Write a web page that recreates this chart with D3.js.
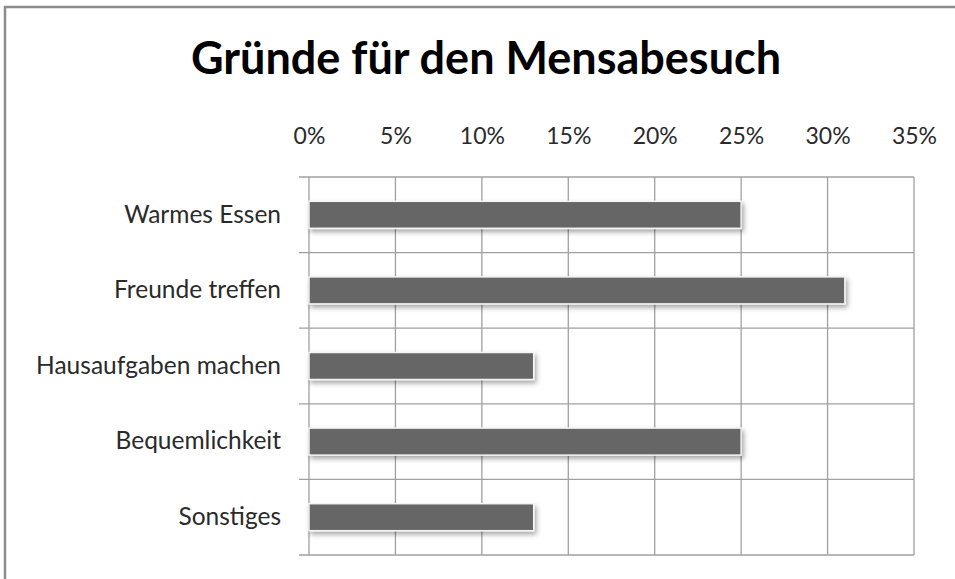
<!DOCTYPE html>
<html>
<head>
<meta charset="utf-8">
<script src="https://cdn.jsdelivr.net/npm/d3@7"></script>
<style>
  body { margin: 0; background: #fff; }
  svg { display: block; font-family: Lato, "Open Sans", sans-serif; }
</style>
</head>
<body>
<svg id="chart"></svg>
<script>
const width = 955;
const height = 579;

// Data
const categories = ["Warmes Essen", "Freunde treffen", "Hausaufgaben machen", "Bequemlichkeit", "Sonstiges"];
const values = [0.25, 0.31, 0.13, 0.25, 0.13];
const tickValues = [0, 0.05, 0.10, 0.15, 0.20, 0.25, 0.30, 0.35];
const title = "Gründe für den Mensabesuch";

const margin = { top: 177, right: 41, bottom: 24, left: 309 };

const svg = d3.select("#chart")
    .attr("width", width)
    .attr("height", height);

// Outer chart frame (only left and top edges are visible in the picture)
svg.append("rect")
    .attr("x", 5)
    .attr("y", 7)
    .attr("width", 1200)
    .attr("height", 1200)
    .attr("fill", "none")
    .attr("stroke", "#8c8c8c")
    .attr("stroke-width", 2.5);

// Shadow filter for the bars
const defs = svg.append("defs");
const filter = defs.append("filter")
    .attr("id", "shadow")
    .attr("x", "-10%").attr("y", "-30%")
    .attr("width", "130%").attr("height", "180%");
filter.append("feDropShadow")
    .attr("dx", 2).attr("dy", 3)
    .attr("stdDeviation", 2.5)
    .attr("flood-color", "#000")
    .attr("flood-opacity", 0.35);

const x = d3.scaleLinear()
    .domain([0, 0.35])
    .range([margin.left, width - margin.right]);

const y = d3.scaleBand()
    .domain(categories)
    .range([margin.top, height - margin.bottom]);

const g = svg.append("g");

// Vertical gridlines
g.selectAll(".vgrid")
    .data(tickValues)
    .enter().append("line")
    .attr("x1", d => x(d)).attr("x2", d => x(d))
    .attr("y1", y.range()[0]).attr("y2", y.range()[1])
    .attr("stroke", "#a0a0a0")
    .attr("stroke-width", 1.3);

// Horizontal gridlines at band edges, with small ticks left of the plot
const edges = categories.map(c => y(c)).concat([y.range()[1]]);
g.selectAll(".hgrid")
    .data(edges)
    .enter().append("line")
    .attr("x1", margin.left - 10).attr("x2", x(0.35))
    .attr("y1", d => d).attr("y2", d => d)
    .attr("stroke", "#a0a0a0")
    .attr("stroke-width", 1.3);

// Top axis labels
const xAxis = d3.axisTop(x)
    .tickValues(tickValues)
    .tickFormat(d3.format(".0%"))
    .tickSize(0)
    .tickPadding(0);

svg.append("g")
    .attr("transform", "translate(0,144)")
    .call(xAxis)
    .call(a => a.select(".domain").remove())
    .call(a => a.selectAll("text")
        .attr("font-family", "Lato, 'Open Sans', sans-serif")
        .attr("font-size", 23)
        .attr("fill", "#2a2a2a")
        .attr("dy", 0));

// Category labels
const yAxis = d3.axisLeft(y).tickSize(0).tickPadding(28);
svg.append("g")
    .attr("transform", `translate(${margin.left},0)`)
    .call(yAxis)
    .call(a => a.select(".domain").remove())
    .call(a => a.selectAll("text")
        .attr("font-family", "Lato, 'Open Sans', sans-serif")
        .attr("font-size", 24.5)
        .attr("fill", "#2a2a2a"));

// Bars
const barH = 27;
svg.selectAll(".bar")
    .data(categories)
    .enter().append("rect")
    .attr("class", "bar")
    .attr("x", x(0))
    .attr("y", d => y(d) + y.bandwidth() / 2 - barH / 2)
    .attr("width", (d, i) => x(values[i]) - x(0))
    .attr("height", barH)
    .attr("fill", "#666666")
    .attr("stroke", "#f4f4f4")
    .attr("stroke-width", 1.5)
    .attr("filter", "url(#shadow)");

// Title
svg.append("text")
    .attr("x", 486)
    .attr("y", 74)
    .attr("text-anchor", "middle")
    .attr("font-family", "Lato, 'Open Sans', sans-serif")
    .attr("font-weight", "bold")
    .attr("font-size", 45)
    .attr("fill", "#000")
    .text(title);
</script>
</body>
</html>
